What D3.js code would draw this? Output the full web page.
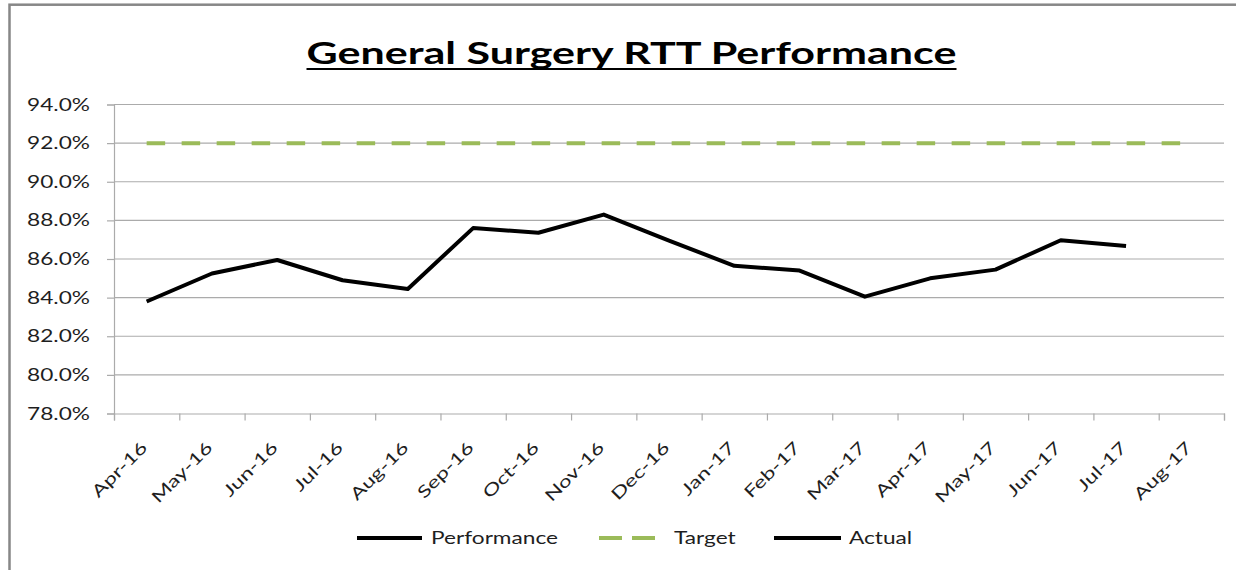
<!DOCTYPE html>
<html>
<head>
<meta charset="utf-8">
<script src="https://cdn.jsdelivr.net/npm/d3@7"></script>
<style>
  html, body { margin: 0; padding: 0; background: #fff; }
  svg { display: block; }
  text { font-family: Lato, "Open Sans", sans-serif; }
</style>
</head>
<body>
<svg id="chart" width="1236" height="570"></svg>
<script>
// ---- data ----
const categories = ["Apr-16","May-16","Jun-16","Jul-16","Aug-16","Sep-16","Oct-16","Nov-16","Dec-16",
                    "Jan-17","Feb-17","Mar-17","Apr-17","May-17","Jun-17","Jul-17","Aug-17"];
const performance = [83.8, 85.25, 85.95, 84.9, 84.45, 87.6, 87.36, 88.3, 86.95,
                     85.65, 85.4, 84.05, 85.0, 85.45, 86.97, 86.67, null];
const target = [92, 92, 92, 92, 92, 92, 92, 92, 92, 92, 92, 92, 92, 92, 92, 92, 92];
const actual = [null, null, null, null, null, null, null, null, null, null, null, null, null, null, null, null, null];
const yTicks = [78, 80, 82, 84, 86, 88, 90, 92, 94];
const titleText = "General Surgery RTT Performance";
const legendItems = ["Performance", "Target", "Actual"];

(function () {
const svg = d3.select("#chart");
const pLeft = 114, pRight = 1224, pTop = 104.5, pBottom = 413.5;
const gridColor = "#ABABAB";
const textColor = "#1e1e1e";
const green = "#9BBB59";
const FS = 16.5;

// chart border
svg.append("rect").attr("x", 9.5).attr("y", 4.7).attr("width", 1400).attr("height", 800)
  .attr("fill", "none").attr("stroke", "#878787").attr("stroke-width", 2.5);

const x = d3.scaleBand().domain(categories).range([pLeft, pRight]);
const xb = d3.scaleLinear().domain([0, categories.length]).range([pLeft, pRight]);
const y = d3.scaleLinear().domain([78, 94]).range([pBottom, pTop]);

// gridlines
svg.append("g").selectAll("line").data(yTicks.filter(d => d > 78)).join("line")
  .attr("x1", pLeft).attr("x2", pRight)
  .attr("y1", d => y(d)).attr("y2", d => y(d))
  .attr("stroke", gridColor).attr("stroke-width", 1.2);

// y axis line + ticks
const yAxis = svg.append("g").attr("transform", `translate(${pLeft},0)`)
  .call(d3.axisLeft(y).tickValues(yTicks).tickSize(7).tickFormat(""));
yAxis.select(".domain").attr("stroke", gridColor).attr("stroke-width", 1.2);
yAxis.selectAll(".tick line").attr("stroke", gridColor).attr("stroke-width", 1.2);

// measure helper: screen width of an element
const bw = n => n.getBoundingClientRect().width;

// y labels (horizontally stretched glyphs like the reference)
const yLab = svg.append("g").selectAll("text").data(yTicks).join("text")
  .attr("text-anchor", "end")
  .attr("font-size", FS).attr("fill", textColor)
  .text(d => d.toFixed(1) + "%");
const yRaw = d3.max(yLab.nodes(), bw);
const kY = 63 / yRaw;
yLab.attr("transform", d => `translate(90,${y(d) + 6}) scale(${kY},1)`);

// x axis (ticks between categories)
const xAxis = svg.append("g").attr("transform", `translate(0,${pBottom})`)
  .call(d3.axisBottom(xb).tickValues(d3.range(categories.length + 1)).tickSize(7).tickFormat(""));
xAxis.select(".domain").attr("stroke", gridColor).attr("stroke-width", 1.2);
xAxis.selectAll(".tick line").attr("stroke", gridColor).attr("stroke-width", 1.2);

const xLab = svg.append("g").selectAll("text").data(categories).join("text")
  .attr("text-anchor", "end")
  .attr("font-size", FS).attr("fill", textColor)
  .text(d => d);
xLab.attr("transform", d => `translate(${x(d) + x.bandwidth() / 2},${pBottom + 30}) rotate(-45) scale(${kY},1)`);
// align each label's top-right corner just below the axis, at its category centre
xLab.each(function (d) {
  const r = this.getBoundingClientRect();
  const cx = x(d) + x.bandwidth() / 2;
  const dx = (cx + 4) - r.right;
  const dy = 437 - r.top;
  d3.select(this).attr("transform",
    `translate(${cx + dx},${pBottom + 30 + dy}) rotate(-45) scale(${kY},1)`);
});

// lines
const line = d3.line()
  .defined(d => d.v != null)
  .x(d => x(d.c) + x.bandwidth() / 2)
  .y(d => y(d.v));

svg.append("path")
  .datum(categories.map((c, i) => ({ c, v: target[i] })))
  .attr("d", line).attr("fill", "none")
  .attr("stroke", green).attr("stroke-width", 4)
  .attr("stroke-dasharray", "18.5 16.5");

svg.append("path")
  .datum(categories.map((c, i) => ({ c, v: performance[i] })))
  .attr("d", line).attr("fill", "none")
  .attr("stroke", "#000").attr("stroke-width", 4).attr("stroke-linejoin", "round");

svg.append("path")
  .datum(categories.map((c, i) => ({ c, v: actual[i] })))
  .attr("d", line).attr("fill", "none")
  .attr("stroke", "#000").attr("stroke-width", 4);

// title
const title = svg.append("text")
  .attr("text-anchor", "middle")
  .attr("font-size", 30).attr("font-weight", "bold").attr("fill", "#000")
  .text(titleText);
const tK = 650 / bw(title.node());
title.attr("transform", `translate(631.5,63.5) scale(${tK},1)`);
svg.append("line").attr("x1", 306.5).attr("x2", 956.5).attr("y1", 69).attr("y2", 69)
  .attr("stroke", "#000").attr("stroke-width", 2.2);

// legend
const ly = 538;
const legend = svg.append("g");
const legendLayout = [
  { name: legendItems[0], x1: 357, x2: 422, tx: 431, color: "#000", dash: null },
  { name: legendItems[1], x1: 599, x2: 655, tx: 674, color: green, dash: "23 10" },
  { name: legendItems[2], x1: 774, x2: 841, tx: 849, color: "#000", dash: null }
];
legendLayout.forEach(it => {
  legend.append("line").attr("x1", it.x1).attr("x2", it.x2).attr("y1", ly).attr("y2", ly)
    .attr("stroke", it.color).attr("stroke-width", 4)
    .attr("stroke-dasharray", it.dash);
  legend.append("text")
    .attr("transform", `translate(${it.tx},${ly + 6}) scale(${kY},1)`)
    .attr("font-size", FS).attr("fill", textColor)
    .text(it.name);
});
})();
</script>
</body>
</html>
